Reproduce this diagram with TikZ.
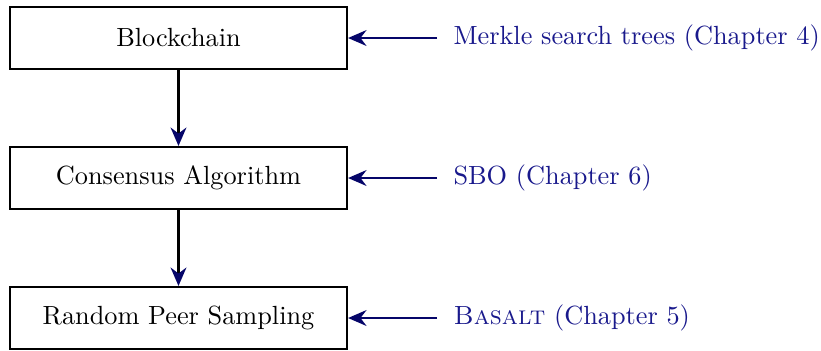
\documentclass[tikz,border=0pt]{standalone}
\usetikzlibrary{arrows.meta}
\definecolor{lbl}{RGB}{25,25,140}
\definecolor{arr}{RGB}{5,5,105}
\begin{document}
\begin{tikzpicture}[x=0.3805pt,y=-0.3805pt,
  box/.style={draw=black,line width=0.8pt,minimum width=337*0.3805pt,minimum height=62*0.3805pt,inner sep=0pt,font=\fontsize{10}{12}\selectfont},
  lab/.style={anchor=west,text=lbl,inner sep=0pt,font=\fontsize{10}{12}\selectfont},
  harr/.style={line width=1pt,draw=arr,-{Stealth[length=7pt,width=6pt]}},
  varr/.style={line width=1pt,draw=black,-{Stealth[length=7pt,width=6pt,color=arr]}}]
\useasboundingbox (0,0) rectangle (821,350);
\node[box] (b1) at (178.5,38) {Blockchain};
\node[box] (b2) at (178.5,178) {Consensus Algorithm};
\node[box] (b3) at (178.5,318) {Random Peer Sampling};
\node[lab] (l1) at (453,38) {Merkle search trees (Chapter 4)};
\node[lab] (l2) at (453,178) {SBO (Chapter 6)};
\node[lab] (l3) at (453,318) {\textsc{Basalt} (Chapter 5)};
\coordinate (c1) at (437,38);
\coordinate (c2) at (437,178);
\coordinate (c3) at (437,318);
\draw[harr] (c1) -- (b1.east);
\draw[harr] (c2) -- (b2.east);
\draw[harr] (c3) -- (b3.east);
\draw[varr] (b1.south) -- (b2.north);
\draw[varr] (b2.south) -- (b3.north);
\end{tikzpicture}
\end{document}
